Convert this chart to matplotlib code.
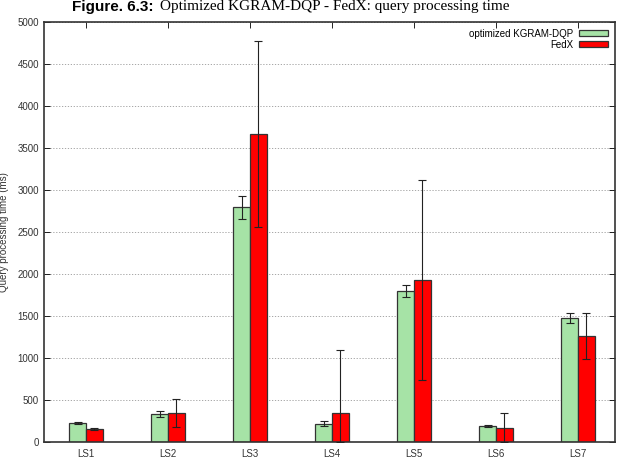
import matplotlib
matplotlib.use("Agg")
import matplotlib.pyplot as plt
import numpy as np

categories = ["LS1", "LS2", "LS3", "LS4", "LS5", "LS6", "LS7"]
kgram = [225, 335, 2800, 220, 1800, 190, 1480]
kgram_lo = [210, 295, 2650, 195, 1730, 175, 1420]
kgram_hi = [240, 375, 2930, 245, 1870, 205, 1540]
fedx = [155, 350, 3670, 340, 1930, 170, 1265]
fedx_lo = [140, 180, 2560, 0, 740, 0, 990]
fedx_hi = [170, 510, 4770, 1090, 3120, 340, 1540]

plt.rcParams['font.family'] = ['Liberation Sans', 'DejaVu Sans']

fig = plt.figure(figsize=(6.23, 4.73), dpi=100)
ax = fig.add_axes([44/623, 31/473, (615-44)/623, (442-22)/473])

x = np.arange(1, len(categories) + 1)
w = 0.205
green = "#a6e3a6"
red = "#ff0000"

k = np.array(kgram); f = np.array(fedx)
kerr = [k - np.array(kgram_lo), np.array(kgram_hi) - k]
ferr = [f - np.array(fedx_lo), np.array(fedx_hi) - f]

ax.bar(x - w/2, k, w, color=green, edgecolor="#333333", linewidth=0.9,
       label="optimized KGRAM-DQP", zorder=2)
ax.bar(x + w/2, f, w, color=red, edgecolor="#333333", linewidth=0.9,
       label="FedX", zorder=2)
ax.errorbar(x - w/2, k, yerr=kerr, fmt='none', ecolor="#222222",
            elinewidth=0.8, capsize=3, capthick=0.8, zorder=3)
ax.errorbar(x + w/2, f, yerr=ferr, fmt='none', ecolor="#222222",
            elinewidth=0.8, capsize=3, capthick=0.8, zorder=3)

ax.set_xlim(1 - 42/82, 1 + 529/82)
ax.set_ylim(0, 5000)
ax.set_yticks(np.arange(0, 5001, 500))
ax.set_xticks(x)
ax.set_xticklabels(categories)
ax.tick_params(axis='both', direction='in', labelsize=7, length=4, width=0.6,
               right=True, top=True, labelcolor="#333333")
ax.tick_params(axis='x', pad=5, bottom=False)
ax.yaxis.grid(True, linestyle=(0, (1.5, 2)), color="#999999", linewidth=0.6)
ax.set_axisbelow(True)
for s in ax.spines.values():
    s.set_linewidth(1.2)
    s.set_color("#333333")

ax.set_ylabel("Query processing time (ms)", fontsize=7, labelpad=6,
              color="#333333")

leg = ax.legend(loc="upper right", frameon=False, markerfirst=False,
                fontsize=7, handlelength=3.0, handleheight=0.6,
                borderaxespad=0.3, labelspacing=0.1, handletextpad=0.6)

fig.text(72/623, 0.999, "Figure. 6.3:", ha='left', va='top',
         fontsize=11, fontweight='bold', family=['Liberation Sans'])
fig.text(160/623, 0.999,
         "Optimized KGRAM-DQP - FedX: query processing time",
         ha='left', va='top', fontsize=11, family=['Liberation Serif'])

fig.savefig("out.png", dpi=100)
